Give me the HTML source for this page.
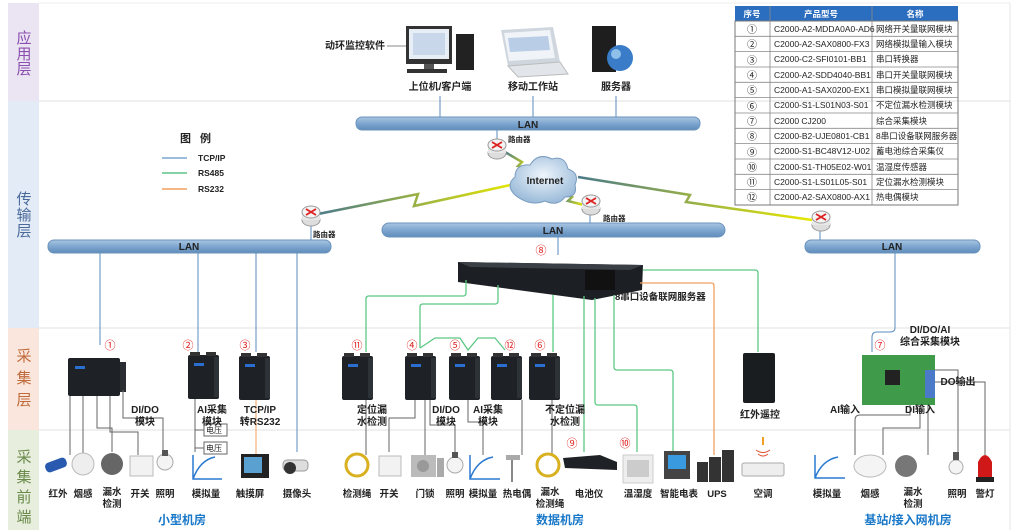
<!DOCTYPE html>
<html><head><meta charset="utf-8"><style>
html,body{margin:0;padding:0;background:#fff;width:1024px;height:530px;overflow:hidden}
svg text{font-family:"Liberation Sans","Noto Sans CJK SC",sans-serif}
</style></head><body>
<svg width="1024" height="530" viewBox="0 0 1024 530" xmlns="http://www.w3.org/2000/svg">
<defs>
<linearGradient id="lan" x1="0" y1="0" x2="0" y2="1"><stop offset="0" stop-color="#a9c6e2"/><stop offset="0.5" stop-color="#7ea6cf"/><stop offset="1" stop-color="#5f8cba"/></linearGradient>
<linearGradient id="bolt" x1="0" y1="0" x2="1" y2="0"><stop offset="0" stop-color="#4a7a8a"/><stop offset="1" stop-color="#e8e800"/></linearGradient>
<radialGradient id="cloud" cx="0.5" cy="0.4" r="0.6"><stop offset="0" stop-color="#eef5fc"/><stop offset="1" stop-color="#9bbbd9"/></radialGradient>
<g id="router"><ellipse cx="0" cy="5" rx="9" ry="6" fill="#ddd" stroke="#999"/><rect x="-9" y="-3" width="18" height="8" fill="#e8e8e8"/><ellipse cx="0" cy="-3" rx="9" ry="6" fill="#f4f4f4" stroke="#999"/><path d="M-5,-6 L5,0 M5,-6 L-5,0" stroke="#d22" stroke-width="1.8"/></g>
<g id="mod"><rect x="0" y="0" width="31" height="44" rx="2" fill="#1e2226"/><rect x="2" y="-3" width="10" height="4" fill="#333"/><rect x="18" y="-3" width="10" height="4" fill="#333"/><rect x="6" y="8" width="10" height="3" fill="#2a6fd0"/><rect x="26" y="2" width="5" height="40" fill="#2d3236"/></g>
</defs>
<!-- layer column -->
<rect x="8" y="3" width="31" height="98" fill="#ebe4f2"/>
<rect x="8" y="101" width="31" height="227" fill="#e3ebf6"/>
<rect x="8" y="328" width="31" height="102" fill="#fae6dc"/>
<rect x="8" y="430" width="31" height="100" fill="#e7eedd"/>
<g font-size="15" text-anchor="middle">
<text x="24" y="43" fill="#8a4fb0">应</text><text x="24" y="59" fill="#8a4fb0">用</text><text x="24" y="74" fill="#8a4fb0">层</text>
<text x="24" y="204" fill="#4a6a9a">传</text><text x="24" y="220" fill="#4a6a9a">输</text><text x="24" y="236" fill="#4a6a9a">层</text>
<text x="24" y="361" fill="#c06a3a">采</text><text x="24" y="383" fill="#c06a3a">集</text><text x="24" y="405" fill="#c06a3a">层</text>
<text x="24" y="462" fill="#6a8a4a">采</text><text x="24" y="482" fill="#6a8a4a">集</text><text x="24" y="502" fill="#6a8a4a">前</text><text x="24" y="522" fill="#6a8a4a">端</text>
</g>
<path d="M39 101H1010M39 328H1010M39 430H1010" stroke="#e2e2e2"/>
<path d="M1010 3V530" stroke="#e6e6e6"/>
<path d="M39 3H1010" stroke="#eee"/>

<!-- app layer -->
<text x="355" y="49" font-size="10" font-weight="bold" text-anchor="middle" fill="#222">动环监控软件</text>
<path d="M387 46H406" stroke="#888"/>
<rect x="406" y="26" width="46" height="38" fill="#333"/><rect x="409" y="29" width="40" height="30" fill="#e8eef6"/><rect x="413" y="33" width="32" height="22" fill="#c8d8ea"/>
<rect x="424" y="64" width="10" height="5" fill="#555"/><rect x="407" y="69" width="40" height="4" fill="#333"/>
<rect x="456" y="34" width="18" height="36" fill="#222"/>
<path d="M501 30 L553 27 L560 62 L508 66Z" fill="#cfd6de"/><path d="M504 33 L550 30 L555 58 L509 61Z" fill="#f0f4f8"/><path d="M508 38 L548 36 L550 50 L510 52Z" fill="#b9cde6"/>
<path d="M508 66 L560 62 L568 74 L518 77Z" fill="#e2e6ea" stroke="#bbb"/>
<rect x="592" y="26" width="24" height="46" fill="#1e1e1e"/><circle cx="620" cy="58" r="13" fill="#3a7cc8"/><circle cx="616" cy="54" r="5" fill="#8fc0ea"/>
<g font-size="10" font-weight="bold" text-anchor="middle" fill="#222">
<text x="440" y="90">上位机/客户端</text><text x="533" y="90">移动工作站</text><text x="616" y="90">服务器</text></g>
<path d="M440 96V118M533 96V118M616 96V118" stroke="#5b8ec0"/>

<!-- table -->
<g font-size="8.5" fill="#222">
<rect x="735" y="6" width="223" height="15" fill="#2b6dbf"/>
<text x="752" y="17" fill="#fff" text-anchor="middle" font-weight="bold">序号</text>
<text x="821" y="17" fill="#fff" text-anchor="middle" font-weight="bold">产品型号</text>
<text x="915" y="17" fill="#fff" text-anchor="middle" font-weight="bold">名称</text>
<rect x="735" y="21" width="223" height="184" fill="none" stroke="#777"/>
<path d="M770 6V205M872 6V205M735 36.3H958M735 51.6H958M735 67H958M735 82.3H958M735 97.6H958M735 113H958M735 128.3H958M735 143.6H958M735 159H958M735 174.3H958M735 189.6H958" stroke="#888" stroke-width="0.8"/>
<g text-anchor="middle" font-size="10"><text x="752" y="33">①</text><text x="752" y="48">②</text><text x="752" y="64">③</text><text x="752" y="79">④</text><text x="752" y="94">⑤</text><text x="752" y="110">⑥</text><text x="752" y="125">⑦</text><text x="752" y="140">⑧</text><text x="752" y="156">⑨</text><text x="752" y="171">⑩</text><text x="752" y="186">⑪</text><text x="752" y="201">⑫</text></g>
<text x="774" y="32">C2000-A2-MDDA0A0-AD6</text><text x="876" y="32">网络开关量联网模块</text>
<text x="774" y="47">C2000-A2-SAX0800-FX3</text><text x="876" y="47">网络模拟量输入模块</text>
<text x="774" y="62">C2000-C2-SFI0101-BB1</text><text x="876" y="62">串口转换器</text>
<text x="774" y="78">C2000-A2-SDD4040-BB1</text><text x="876" y="78">串口开关量联网模块</text>
<text x="774" y="93">C2000-A1-SAX0200-EX1</text><text x="876" y="93">串口模拟量联网模块</text>
<text x="774" y="108">C2000-S1-LS01N03-S01</text><text x="876" y="108">不定位漏水检测模块</text>
<text x="774" y="124">C2000 CJ200</text><text x="876" y="124">综合采集模块</text>
<text x="774" y="139">C2000-B2-UJE0801-CB1</text><text x="876" y="139">8串口设备联网服务器</text>
<text x="774" y="154">C2000-S1-BC48V12-U02</text><text x="876" y="154">蓄电池综合采集仪</text>
<text x="774" y="170">C2000-S1-TH05E02-W01</text><text x="876" y="170">温湿度传感器</text>
<text x="774" y="185">C2000-S1-LS01L05-S01</text><text x="876" y="185">定位漏水检测模块</text>
<text x="774" y="200">C2000-A2-SAX0800-AX1</text><text x="876" y="200">热电偶模块</text>
</g>

<!-- legend -->
<text x="180" y="142" font-size="11" font-weight="bold" fill="#222">图</text>
<text x="200" y="142" font-size="11" font-weight="bold" fill="#222">例</text>
<path d="M162 158H187" stroke="#7aa6d0" stroke-width="1.5"/><path d="M162 173H187" stroke="#5ec486" stroke-width="1.5"/><path d="M162 189H187" stroke="#f0a060" stroke-width="1.5"/>
<g font-size="8.5" font-weight="bold" fill="#222"><text x="198" y="161">TCP/IP</text><text x="198" y="176">RS485</text><text x="198" y="192">RS232</text></g>

<!-- lightning -->
<g stroke="url(#bolt)" stroke-width="2.5" fill="none">
<path d="M318 214 L418 194 L414 206 L515 184"/>
<path d="M505 152 L522 162 L518 166 L532 170"/>
<path d="M560 192 L572 197 L568 201 L584 205"/>
<path d="M578 177 L690 195 L686 202 L812 220"/>
</g>
<!-- cloud -->
<path d="M515 195 Q505 185 515 177 Q515 164 530 165 Q538 152 552 159 Q565 155 568 169 Q580 173 575 185 Q578 197 565 197 Q558 207 545 201 Q530 207 515 195Z" fill="url(#cloud)" stroke="#7a9cc0"/>
<text x="545" y="184" font-size="10" font-weight="bold" text-anchor="middle" fill="#222">Internet</text>

<!-- LANs -->
<rect x="356" y="117" width="344" height="13" rx="6" fill="url(#lan)" stroke="#6b93bd"/>
<text x="528" y="128" font-size="10" font-weight="bold" text-anchor="middle" fill="#222">LAN</text>
<rect x="382" y="223" width="343" height="14" rx="7" fill="url(#lan)" stroke="#6b93bd"/>
<text x="553" y="234" font-size="10" font-weight="bold" text-anchor="middle" fill="#222">LAN</text>
<rect x="48" y="240" width="283" height="13" rx="6" fill="url(#lan)" stroke="#6b93bd"/>
<text x="189" y="250" font-size="10" font-weight="bold" text-anchor="middle" fill="#222">LAN</text>
<rect x="805" y="240" width="175" height="13" rx="6" fill="url(#lan)" stroke="#6b93bd"/>
<text x="892" y="250" font-size="10" font-weight="bold" text-anchor="middle" fill="#222">LAN</text>
<!-- routers -->
<path d="M497 130V145M590 210V223M311 222V240M820 228V240" stroke="#5b8ec0"/>
<use href="#router" x="497" y="148"/><use href="#router" x="591" y="204"/><use href="#router" x="311" y="215"/><use href="#router" x="821" y="220"/>
<g font-size="7.5" font-weight="bold" fill="#222"><text x="508" y="142">路由器</text><text x="603" y="221">路由器</text><text x="313" y="237">路由器</text></g>

<!-- blue drops -->
<path d="M100 253V345M198 253V352M256 253V352M297 253V452M558 237V255M895 253V328Q895 332 890 332H877Q872 332 872 337V352" stroke="#5b8ec0" fill="none"/>

<!-- server 8 -->
<path d="M458 262 L643 265 L642 290 L592 300 L458 282Z" fill="#1c2024"/>
<path d="M458 262 L643 265 L630 270 L470 267Z" fill="#3a3f45"/>
<rect x="585" y="270" width="30" height="20" fill="#111"/>
<text x="541" y="254" font-size="11" fill="#e02020" text-anchor="middle">⑧</text>
<text x="615" y="300" font-size="9.5" font-weight="bold" fill="#222">8串口设备联网服务器</text>

<!-- green lines -->
<g stroke="#5cc884" stroke-width="1.3" fill="none">
<path d="M466 280V293Q466 296 463 296H369Q366 296 366 299V352"/>
<path d="M498 285V301Q498 304 495 304H423Q420 304 420 307V348"/>
<path d="M420 348L435 338H460L468 350L478 338H495L505 350"/>
<path d="M553 295V352"/>
<path d="M584 296V452"/>
<path d="M595 298V402Q595 405 598 405H634Q637 405 637 408V452"/>
<path d="M614 295V367Q614 370 617 370H670Q673 370 673 373V452"/>
<path d="M643 270H755Q758 270 758 273V352"/>
</g>
<path d="M640 283H711Q714 283 714 286V455" stroke="#f0a060" stroke-width="1.3" fill="none"/>

<!-- modules -->
<rect x="68" y="358" width="52" height="38" rx="2" fill="#1e2226"/><rect x="120" y="362" width="6" height="30" fill="#2a2e32"/><rect x="75" y="366" width="10" height="3" fill="#2a6fd0"/>
<use href="#mod" x="188" y="355"/><use href="#mod" x="239" y="356"/>
<use href="#mod" x="342" y="356"/><use href="#mod" x="405" y="356"/><use href="#mod" x="449" y="356"/><use href="#mod" x="491" y="356"/><use href="#mod" x="529" y="356"/>
<rect x="743" y="353" width="32" height="50" rx="2" fill="#1a1d20"/>
<rect x="862" y="355" width="73" height="50" fill="#3f9a4a"/><rect x="885" y="370" width="15" height="15" fill="#222"/><rect x="925" y="370" width="10" height="28" fill="#4a7ac8"/>
<g font-size="11" fill="#e02020" text-anchor="middle"><text x="110" y="349">①</text><text x="188" y="349">②</text><text x="245" y="349">③</text><text x="357" y="349">⑪</text><text x="412" y="349">④</text><text x="455" y="349">⑤</text><text x="510" y="349">⑫</text><text x="540" y="349">⑥</text><text x="880" y="349">⑦</text><text x="572" y="447">⑨</text><text x="625" y="447">⑩</text></g>

<!-- gray leaders -->
<g stroke="#666" fill="none">
<path d="M70 396V455M83 396V455M97 396V428H112V452M110 396V432H138V455M123 390V418H163V455"/>
<path d="M195 399V452M195 430H204M195 448H204"/>
<path d="M366 400V455M415 400V418H389V452M425 400V455M430 400V425H455V452M468 400V422H483V455M522 400V455M552 400V455"/>
<path d="M910 405V415H860Q855 415 855 420V455M920 405V428H883V455M928 405V455M935 370H958V452M935 382H985V455"/>
</g>
<path d="M256 400V455" stroke="#f0a060"/>
<rect x="204" y="424" width="23" height="12" fill="#fff" stroke="#666"/><rect x="204" y="442" width="23" height="12" fill="#fff" stroke="#666"/>
<g font-size="8" fill="#222"><text x="206" y="433">电压</text><text x="206" y="451">电压</text></g>

<!-- module labels -->
<g font-size="10" font-weight="bold" fill="#222" text-anchor="middle">
<text x="145" y="413">DI/DO</text><text x="145" y="425">模块</text>
<text x="212" y="413">AI采集</text><text x="212" y="425">模块</text>
<text x="260" y="413">TCP/IP</text><text x="260" y="425">转RS232</text>
<text x="372" y="413">定位漏</text><text x="372" y="425">水检测</text>
<text x="446" y="413">DI/DO</text><text x="446" y="425">模块</text>
<text x="488" y="413">AI采集</text><text x="488" y="425">模块</text>
<text x="565" y="413">不定位漏</text><text x="565" y="425">水检测</text>
<text x="760" y="418">红外遥控</text>
<text x="930" y="333">DI/DO/AI</text><text x="930" y="345">综合采集模块</text>
<text x="845" y="413">AI输入</text><text x="920" y="413">DI输入</text><text x="958" y="385">DO输出</text>
</g>

<!-- front-end devices -->
<g>
<rect x="45" y="460" width="22" height="10" rx="4" fill="#2a5ab0" transform="rotate(-20 56 465)"/>
<circle cx="83" cy="464" r="11" fill="#eee" stroke="#bbb"/>
<circle cx="112" cy="464" r="11" fill="#666"/>
<rect x="130" y="456" width="23" height="20" fill="#f2f2f2" stroke="#bbb"/>
<circle cx="165" cy="462" r="8" fill="#f4f4f4" stroke="#aaa"/><rect x="162" y="450" width="6" height="6" fill="#555"/>
<path d="M193 455V479H222M193 479Q200 460 215 457" stroke="#2a7ad0" stroke-width="1.5" fill="none"/>
<rect x="241" y="454" width="28" height="24" fill="#222"/><rect x="244" y="457" width="18" height="16" fill="#5aa0d0"/>
<rect x="283" y="460" width="25" height="11" rx="4" fill="#ddd" stroke="#999"/><circle cx="290" cy="468" r="6" fill="#333"/>
<circle cx="357" cy="465" r="11" fill="none" stroke="#d8b020" stroke-width="3"/>
<rect x="379" y="456" width="22" height="20" fill="#f2f2f2" stroke="#bbb"/>
<rect x="411" y="455" width="25" height="22" fill="#bbb"/><circle cx="423" cy="466" r="6" fill="#999"/><rect x="437" y="458" width="7" height="19" fill="#aaa"/>
<circle cx="455" cy="465" r="8" fill="#f4f4f4" stroke="#aaa"/><rect x="452" y="452" width="6" height="6" fill="#555"/>
<path d="M470 455V479H500M470 479Q477 460 493 457" stroke="#2a7ad0" stroke-width="1.5" fill="none"/>
<path d="M512 455V482" stroke="#888" stroke-width="2"/><rect x="506" y="455" width="14" height="5" fill="#aaa"/>
<circle cx="548" cy="465" r="11" fill="none" stroke="#d8b020" stroke-width="3"/>
<path d="M563 458L600 455L617 462L617 470L565 468Z" fill="#1e2226"/>
<rect x="623" y="455" width="30" height="28" fill="#eee" stroke="#ccc"/><rect x="627" y="460" width="22" height="17" fill="#ccc"/>
<rect x="664" y="451" width="26" height="28" fill="#444"/><rect x="668" y="455" width="18" height="14" fill="#3a9ae0"/>
<rect x="697" y="462" width="11" height="20" fill="#333"/><rect x="709" y="457" width="12" height="25" fill="#333"/><rect x="722" y="450" width="12" height="32" fill="#333"/>
<path d="M756 450Q763 455 770 450M758 454Q763 458 768 454" stroke="#e05030" fill="none"/><rect x="762" y="437" width="2" height="8" fill="#f0a020"/>
<rect x="742" y="463" width="42" height="13" rx="2" fill="#eee" stroke="#aaa"/>
<path d="M815 455V478H845M815 478Q822 460 838 457" stroke="#2a7ad0" stroke-width="1.5" fill="none"/>
<ellipse cx="870" cy="466" rx="16" ry="11" fill="#f4f4f4" stroke="#bbb"/>
<circle cx="906" cy="466" r="11" fill="#777"/>
<circle cx="956" cy="467" r="7" fill="#f4f4f4" stroke="#aaa"/><rect x="953" y="452" width="6" height="8" fill="#555"/>
<path d="M978 478V462Q985 448 992 462V478Z" fill="#d01818"/><rect x="976" y="477" width="18" height="5" fill="#222"/>
</g>

<!-- bottom labels -->
<g font-size="9.5" font-weight="bold" fill="#222" text-anchor="middle">
<text x="58" y="497">红外</text><text x="83" y="497">烟感</text><text x="112" y="495">漏水</text><text x="112" y="507">检测</text><text x="140" y="497">开关</text><text x="165" y="497">照明</text>
<text x="206" y="497">模拟量</text><text x="250" y="497">触摸屏</text><text x="297" y="497">摄像头</text>
<text x="357" y="497">检测绳</text><text x="389" y="497">开关</text><text x="425" y="497">门锁</text><text x="455" y="497">照明</text><text x="483" y="497">模拟量</text><text x="517" y="497">热电偶</text>
<text x="550" y="495">漏水</text><text x="550" y="507">检测绳</text><text x="589" y="497">电池仪</text><text x="638" y="497">温湿度</text><text x="679" y="497">智能电表</text><text x="717" y="497">UPS</text><text x="763" y="497">空调</text>
<text x="827" y="497">模拟量</text><text x="870" y="497">烟感</text><text x="913" y="495">漏水</text><text x="913" y="507">检测</text><text x="957" y="497">照明</text><text x="985" y="497">警灯</text>
</g>
<g font-size="12" font-weight="bold" fill="#1a78c8" text-anchor="middle">
<text x="182" y="524">小型机房</text><text x="560" y="524">数据机房</text><text x="908" y="524">基站/接入网机房</text></g>
</svg>
</body></html>
